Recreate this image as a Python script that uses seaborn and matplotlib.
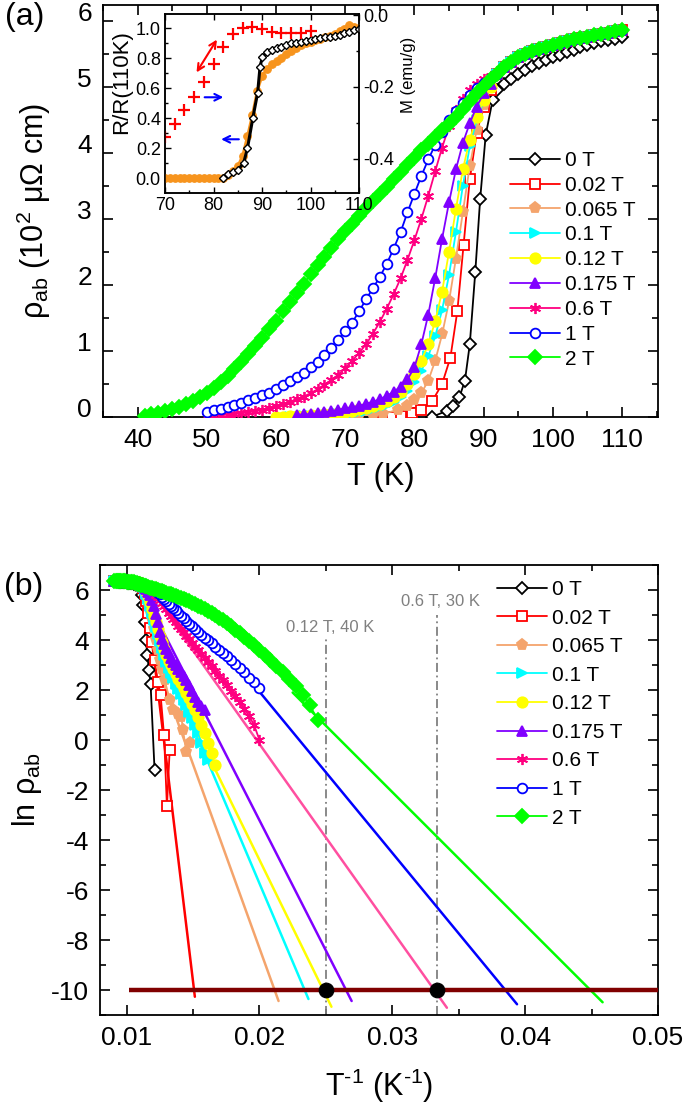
import numpy as np
import matplotlib
matplotlib.use("Agg")
import matplotlib.pyplot as plt
import matplotlib.transforms as mtransforms
from matplotlib.ticker import MultipleLocator, FormatStrFormatter
import seaborn as sns

sns.set_theme(style="ticks", rc={"axes.edgecolor": "black", "text.color": "black",
                                 "xtick.color": "black", "ytick.color": "black",
                                 "axes.labelcolor": "black"})
plt.rcParams['font.family'] = ['Liberation Sans', 'DejaVu Sans']
plt.rcParams['mathtext.fontset'] = 'custom'
plt.rcParams['mathtext.rm'] = 'Liberation Sans'
plt.rcParams['mathtext.it'] = 'Liberation Sans:italic'
plt.rcParams['mathtext.default'] = 'regular'
plt.rcParams['axes.unicode_minus'] = False

# ---------------- data: rho_ab (10^2 uOhm cm) vs T (K) ----------------
labels = ['0 T', '0.02 T', '0.065 T', '0.1 T', '0.12 T', '0.175 T', '0.6 T', '1 T', '2 T']

# common normal-state part (92-110 K)
T_norm = list(range(92, 111))
rho_norm = [5.20, 5.30, 5.38, 5.45, 5.50, 5.54, 5.58, 5.61, 5.64, 5.67,
            5.69, 5.72, 5.74, 5.76, 5.78, 5.80, 5.82, 5.84, 5.86]
rho_norm_0T = [4.95, 5.05, 5.12, 5.20, 5.26, 5.31, 5.36, 5.40, 5.45, 5.49,
               5.53, 5.56, 5.60, 5.63, 5.66, 5.69, 5.71, 5.73, 5.75]

T_0T = [82.6, 84.7, 85.6, 86.5, 87.3, 88.0, 88.8, 89.5, 90.3, 91.3] + T_norm
rho_0T = [0.003, 0.095, 0.165, 0.30, 0.55, 1.10, 2.20, 3.30, 4.27, 4.80] + rho_norm_0T

T_002 = [75.5, 76.7, 78.0, 79.6, 80.9, 82.6, 84.0, 85.2, 86.2, 87.1, 88.0, 89.0, 90.0, 91.0] + T_norm
rho_002 = [0.0067, 0.0007, 0.012, 0.06, 0.10, 0.245, 0.50, 0.90, 1.60, 2.60,
           3.60, 4.30, 4.70, 4.95] + rho_norm

T_0065 = [67.8, 69.0, 70.2, 70.8, 72.0, 74.0, 75.5, 77.7, 79.0, 80.0, 81.0, 82.0, 83.0,
          84.0, 85.0, 86.0, 87.0, 88.0, 89.0, 90.0, 91.0] + T_norm
rho_0065 = [0.0088, 0.0063, 0.015, 0.025, 0.028, 0.033, 0.05, 0.11, 0.17, 0.25, 0.36,
            0.55, 0.85, 1.25, 1.75, 2.40, 3.10, 3.80, 4.35, 4.72, 4.98] + rho_norm

T_01 = list(range(62, 92)) + T_norm
rho_01 = [0.0045, 0.006, 0.009, 0.013, 0.018, 0.024, 0.031, 0.04, 0.05, 0.062,
          0.077, 0.095, 0.118, 0.145, 0.18, 0.23, 0.30, 0.40, 0.53, 0.70,
          0.92, 1.22, 1.62, 2.15, 2.80, 3.50, 4.10, 4.50, 4.78, 5.00] + rho_norm

T_012 = list(range(60, 92)) + T_norm
rho_012 = [0.0037, 0.006, 0.009, 0.013, 0.018, 0.025, 0.033, 0.042, 0.053, 0.066,
           0.08, 0.096, 0.115, 0.14, 0.17, 0.20, 0.24, 0.30, 0.38, 0.50,
           0.65, 0.85, 1.10, 1.45, 1.90, 2.50, 3.15, 3.75, 4.20, 4.55,
           4.80, 5.00] + rho_norm

T_0175 = list(range(63, 92)) + T_norm
rho_0175 = [0.033, 0.039, 0.045, 0.056, 0.07, 0.09, 0.11, 0.13, 0.15, 0.17,
            0.20, 0.23, 0.27, 0.32, 0.38, 0.46, 0.57, 0.75, 1.10, 1.55,
            2.10, 2.70, 3.25, 3.75, 4.15, 4.45, 4.70, 4.90, 5.05] + rho_norm

T_06 = list(range(50, 92)) + T_norm
rho_06 = [0.010, 0.018, 0.026, 0.035, 0.045, 0.058, 0.072, 0.09, 0.11, 0.13,
          0.16, 0.19, 0.23, 0.27, 0.31, 0.36, 0.42, 0.49, 0.56, 0.64,
          0.74, 0.85, 0.97, 1.10, 1.26, 1.44, 1.64, 1.86, 2.10, 2.38,
          2.68, 3.00, 3.35, 3.72, 4.08, 4.40, 4.65, 4.82, 4.95, 5.05,
          5.12, 5.17] + rho_norm

T_1 = list(range(50, 92)) + T_norm
rho_1 = [0.08, 0.10, 0.12, 0.15, 0.18, 0.21, 0.25, 0.29, 0.33, 0.37,
         0.42, 0.48, 0.54, 0.60, 0.67, 0.75, 0.84, 0.94, 1.05, 1.17,
         1.30, 1.43, 1.60, 1.78, 1.95, 2.12, 2.32, 2.55, 2.80, 3.10,
         3.38, 3.65, 3.90, 4.12, 4.32, 4.50, 4.63, 4.76, 4.88, 4.98,
         5.06, 5.14] + rho_norm

T_2 = list(range(41, 92)) + T_norm
rho_2 = [0.022, 0.04, 0.06, 0.085, 0.115, 0.15, 0.19, 0.245, 0.30, 0.36,
         0.44, 0.53, 0.62, 0.72, 0.83, 0.95, 1.07, 1.20, 1.33, 1.46,
         1.60, 1.74, 1.88, 2.02, 2.16, 2.30, 2.43, 2.56, 2.69, 2.81,
         2.93, 3.05, 3.16, 3.27, 3.38, 3.49, 3.60, 3.71, 3.82, 3.93,
         4.04, 4.14, 4.24, 4.34, 4.44, 4.55, 4.66, 4.78, 4.90, 5.02,
         5.12] + rho_norm

series = [(T_0T, rho_0T), (T_002, rho_002), (T_0065, rho_0065), (T_01, rho_01),
          (T_012, rho_012), (T_0175, rho_0175), (T_06, rho_06), (T_1, rho_1), (T_2, rho_2)]

# linear fits in panel (b): start/end points (T^-1, ln rho) for 0.02 T ... 2 T
fit_v0 = [0.0117, 0.0123, 0.0120, 0.0118, 0.0126, 0.0135, 0.0185, 0.0225]
fit_ln0 = [4.9, 3.0, 4.3, 4.1, 4.5, 4.7, 2.9, 1.9]
fit_v1 = [0.01514, 0.02144, 0.02369, 0.02542, 0.02694, 0.03411, 0.03939, 0.04583]
fit_ln1 = [-10.27, -10.44, -10.36, -10.67, -10.44, -10.71, -10.57, -10.49]

guide_v = [1 / 40, 1 / 30]
guide_top = [4.08, 5.0]
guide_text = ['0.12 T, 40 K', '0.6 T, 30 K']
guide_text_y = [4.48, 5.52]
cut_level = -10

# inset data
in_T_R = [82, 83, 84, 85, 86.2, 87, 88.1, 89.1, 89.6, 90.1, 91, 92, 93, 94, 95, 96, 97, 98,
          99, 100, 101, 102, 103, 104, 105, 106, 107, 108, 109, 110]
in_R = [0.0, 0.03, 0.04, 0.055, 0.10, 0.20, 0.40, 0.57, 0.745, 0.81, 0.84, 0.855, 0.867,
        0.878, 0.889, 0.90, 0.904, 0.91, 0.916, 0.922, 0.928, 0.933, 0.939, 0.944, 0.951,
        0.958, 0.967, 0.978, 0.987, 0.995]
in_T_orange = list(range(70, 111))
in_R_orange = [0.0, 0.0, 0.0, 0.0, 0.0, 0.0, 0.0, 0.0, 0.0, 0.0, 0.0, 0.0, 0.005, 0.02,
               0.05, 0.08, 0.15, 0.28, 0.42, 0.58, 0.68, 0.73, 0.76, 0.78, 0.80, 0.83,
               0.85, 0.87, 0.89, 0.90, 0.91, 0.92, 0.93, 0.94, 0.95, 0.965, 0.98, 0.995,
               1.02, 1.01, 1.0]
in_T_M = [70, 72, 74, 76, 78, 80, 82, 84, 86, 88, 90, 92, 94, 96, 98, 100]
in_M = [-0.340, -0.303, -0.264, -0.227, -0.185, -0.137, -0.088, -0.054, -0.037, -0.034,
        -0.038, -0.048, -0.051, -0.051, -0.051, -0.044]

# ---------------- styles ----------------
colors = ['#000000', '#FF0000', '#F4A46C', '#00FFFF', '#FFFF00', '#8000FF', '#FF0080', '#0000FF', '#00FF00']
fit_colors = ['#FF0000', '#F4A46C', '#00FFFF', '#FFFF00', '#8000FF', '#FF4FA0', '#0000FF', '#00FF00']
markers = ['D', 's', 'p', '>', 'o', '^', (6, 2, 0), 'o', 'D']
filled = [False, False, True, True, True, True, True, False, True]
msize = [6.5, 6.5, 8, 7.5, 7.5, 7.5, 8, 7, 7]

fig = plt.figure(figsize=(6.85, 11.15), dpi=100)
ax_a = fig.add_axes([103 / 685, 1 - 417 / 1115, 555 / 685, 412 / 1115])
ax_b = fig.add_axes([100 / 685, 1 - 1015 / 1115, 558 / 685, 450 / 1115])

for i, (T, rho) in enumerate(series):
    T = np.asarray(T, float)
    rho = np.asarray(rho, float)
    face = colors[i] if filled[i] else 'white'
    kw = dict(color=colors[i], marker=markers[i], markersize=msize[i], markerfacecolor=face,
              markeredgecolor=colors[i], markeredgewidth=1.3, linewidth=1.3,
              sort=False, estimator=None, label=labels[i])
    sns.lineplot(x=T, y=rho, ax=ax_a, zorder=3 + i, **kw)
    sns.lineplot(x=1 / T, y=np.log(rho * 100), ax=ax_b, zorder=4 + i, **kw)

for j in range(len(fit_v0)):
    sns.lineplot(x=[fit_v0[j], fit_v1[j]], y=[fit_ln0[j], fit_ln1[j]], ax=ax_b,
                 color=fit_colors[j], linewidth=1.8, zorder=3, sort=False, estimator=None)

ax_b.vlines(guide_v, -11, guide_top, colors='#808080', linewidth=1.3,
            linestyles=[(0, (5, 2, 1, 2))], zorder=2)
for v, ty, s in zip(guide_v, guide_text_y, guide_text):
    ax_b.text(v + 0.0003, ty, s, color='#808080', fontsize=12, ha='center', va='center')
ax_b.hlines(cut_level, 0.0102, 0.05, colors='#800000', linewidth=3.2, zorder=15)
sns.scatterplot(x=guide_v, y=[cut_level] * 2, ax=ax_b, color='black', s=110,
                edgecolor='black', zorder=16)

# ---------------- axes formatting ----------------
ax_a.set_xlim(35, 115.2)
ax_a.set_ylim(0, 6.24)
ax_a.xaxis.set_major_locator(MultipleLocator(10))
ax_a.xaxis.set_minor_locator(MultipleLocator(5))
ax_a.yaxis.set_major_locator(MultipleLocator(1))
ax_a.yaxis.set_minor_locator(MultipleLocator(0.5))

ax_b.set_xlim(0.008, 0.05)
ax_b.set_ylim(-11, 7)
ax_b.xaxis.set_major_locator(MultipleLocator(0.01))
ax_b.xaxis.set_minor_locator(MultipleLocator(0.005))
ax_b.xaxis.set_major_formatter(FormatStrFormatter('%.2f'))
ax_b.yaxis.set_major_locator(MultipleLocator(2))
ax_b.yaxis.set_minor_locator(MultipleLocator(1))

for ax in (ax_a, ax_b):
    ax.tick_params(which='both', direction='in', top=True, right=True, width=1.2,
                   labelsize=19, pad=8)
    ax.tick_params(which='major', length=7)
    ax.tick_params(which='minor', length=4)
    for sp in ax.spines.values():
        sp.set_linewidth(1.3)
        sp.set_visible(True)

ax_a.set_xlabel('T (K)', fontsize=22)
ax_a.set_ylabel(r'$\rho_{ab}$ (10$^{2}$ $\mu\Omega$ cm)', fontsize=22)
ax_a.xaxis.set_label_coords(0.5, -0.11)
ax_a.yaxis.set_label_coords(-0.09, 0.5)
ax_b.set_xlabel('T$^{\u20101}$ (K$^{\u20101}$)', fontsize=22)
ax_b.set_ylabel(r'ln $\rho_{ab}$', fontsize=22)
ax_b.xaxis.set_label_coords(0.5, -0.115)
ax_b.yaxis.set_label_coords(-0.10, 0.5)

# y tick labels of panel (a) sit slightly above their ticks
shift = mtransforms.ScaledTranslation(0, 9 / 100, fig.dpi_scale_trans)
for lab in ax_a.get_yticklabels():
    lab.set_transform(lab.get_transform() + shift)

leg_kw = dict(loc='upper left', frameon=False, fontsize=15, handlelength=2.4,
              handletextpad=0.25, borderpad=0, borderaxespad=0, numpoints=1,
              bbox_transform=fig.transFigure)
h, l = ax_a.get_legend_handles_labels()
ax_a.legend(h[:9], l[:9], bbox_to_anchor=(510 / 685, 1 - 151 / 1115), labelspacing=0.28, **leg_kw)
h, l = ax_b.get_legend_handles_labels()
ax_b.legend(h[:9], l[:9], bbox_to_anchor=(497 / 685, 1 - 580 / 1115), labelspacing=0.46, **leg_kw)

fig.text(25 / 685, 1 - 17 / 1115, '(a)', fontsize=23, ha='center', va='center')
fig.text(24 / 685, 1 - 587 / 1115, '(b)', fontsize=23, ha='center', va='center')

# ---------------- inset ----------------
ax_in = fig.add_axes([165 / 685, 1 - 193 / 1115, 194 / 685, 179 / 1115], zorder=20)
ax_in.set_facecolor('white')
sns.lineplot(x=in_T_orange, y=in_R_orange, ax=ax_in, color='#F7941D', marker='o', markersize=5.5,
             markerfacecolor='#F7941D', markeredgecolor='#F7941D', linewidth=2,
             sort=False, estimator=None, zorder=3)
sns.lineplot(x=in_T_R, y=in_R, ax=ax_in, color='black', marker='D', markersize=4.5,
             markerfacecolor='white', markeredgecolor='black', markeredgewidth=1,
             linewidth=2.2, sort=False, estimator=None, zorder=4)
ax_in.annotate('', xy=(81.0, 0.94), xytext=(76.2, 0.69),
               arrowprops=dict(arrowstyle='<->', color='red', lw=1.5))
ax_in.annotate('', xy=(82.6, 0.54), xytext=(77.6, 0.54),
               arrowprops=dict(arrowstyle='->', color='blue', lw=1.5))
ax_in.annotate('', xy=(81.0, 0.26), xytext=(85.8, 0.26),
               arrowprops=dict(arrowstyle='->', color='blue', lw=1.5))
ax_in.set_xlim(70, 110)
ax_in.set_ylim(-0.098, 1.095)
ax_in.xaxis.set_major_locator(MultipleLocator(10))
ax_in.xaxis.set_minor_locator(MultipleLocator(5))
ax_in.yaxis.set_major_locator(MultipleLocator(0.2))
ax_in.yaxis.set_minor_locator(MultipleLocator(0.1))
ax_in.yaxis.set_major_formatter(FormatStrFormatter('%.1f'))
ax_in.set_ylabel('R/R(110K)', fontsize=16)
ax_in.yaxis.set_label_coords(-0.17, 0.62)

ax_in2 = ax_in.twinx()
sns.scatterplot(x=in_T_M, y=in_M, ax=ax_in2, marker='+', color='red', s=75, linewidth=1.6)
ax_in2.set_ylim(-0.495, 0.003)
ax_in2.yaxis.set_major_locator(MultipleLocator(0.2))
ax_in2.yaxis.set_minor_locator(MultipleLocator(0.1))
ax_in2.yaxis.set_major_formatter(FormatStrFormatter('%.1f'))
ax_in2.set_ylabel('M (emu/g)', fontsize=12)
ax_in2.yaxis.set_label_coords(1.215, 0.66)

for ax in (ax_in, ax_in2):
    ax.tick_params(which='both', direction='in', width=1, labelsize=13, pad=3)
    ax.tick_params(which='major', length=4)
    ax.tick_params(which='minor', length=2)
    for sp in ax.spines.values():
        sp.set_linewidth(1.1)
ax_in.tick_params(top=True)

fig.savefig('out.png', dpi=100)
